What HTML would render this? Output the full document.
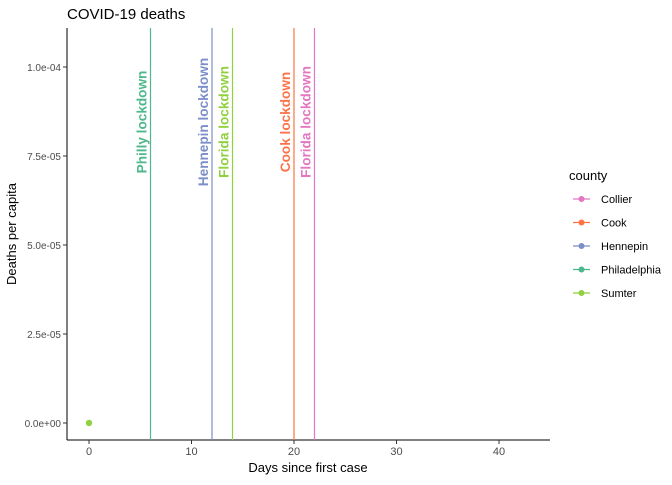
<!DOCTYPE html>
<html><head><meta charset="utf-8"><style>
body{margin:0;background:#fff;font-family:"Liberation Sans",sans-serif}
</style></head><body>
<svg id="c" width="672" height="480" xmlns="http://www.w3.org/2000/svg"></svg>
<script>
const counties=["Collier","Cook","Hennepin","Philadelphia","Sumter"];
const colors=["#E377C2","#FC7347","#7C8EC8","#4DB88D","#8FD13F"];
const lockdownDays=[6,12,14,20,22];
const lockdownLabels=["Philly lockdown","Hennepin lockdown","Florida lockdown","Cook lockdown","Florida lockdown"];
const lockdownCounty=["Philadelphia","Hennepin","Sumter","Cook","Collier"];
const pointDays=[0];
const pointValues=[0];
const pointCounty=["Sumter"];
const xTicks=[0,10,20,30,40];
const yTicks=[0,2.5e-5,5e-5,7.5e-5,1e-4];
const yTickLabels=["0.0e+00","2.5e-05","5.0e-05","7.5e-05","1.0e-04"];

const svg=document.getElementById('c');
const NS="http://www.w3.org/2000/svg";
const L=67,R=550,T=28,B=440;
const x=d=>89+d*10.25;
const y=v=>423-v/1e-4*356;
function el(t,a,txt){const e=document.createElementNS(NS,t);for(const k in a)e.setAttribute(k,a[k]);if(txt!=null)e.textContent=txt;svg.appendChild(e);return e;}
const col=c=>colors[counties.indexOf(c)];

let e;
e=el('line',{x1:L,y1:T,x2:L,y2:B,stroke:'#000','stroke-width':1});


e=el('line',{x1:L,y1:B,x2:R,y2:B,stroke:'#000','stroke-width':1});


xTicks.forEach(t=>{
 e=el('line',{x1:x(t),y1:B,x2:x(t),y2:B+4,stroke:'#333'});
 
 
 e=el('text',{x:x(t),y:B+15,'font-size':11,fill:'#4d4d4d','text-anchor':'middle'},t);
 
 
});
yTicks.forEach((t,i)=>{
 e=el('line',{x1:L-4,y1:y(t),x2:L,y2:y(t),stroke:'#333'});
 
 
 e=el('text',{x:L-6,y:y(t)+4,'font-size':10,fill:'#4d4d4d','text-anchor':'end'},yTickLabels[i]);
 
 
});
lockdownDays.forEach((d,i)=>{
 const c=col(lockdownCounty[i]);
 e=el('line',{x1:x(d),y1:T,x2:x(d),y2:B,stroke:c,'stroke-width':1.2});
 
 
 e=el('text',{x:0,y:0,'font-size':13.6,'font-weight':'bold',fill:c,'text-anchor':'middle',transform:`translate(${x(d)-4},122) rotate(-90)`},lockdownLabels[i]);
 
 
});
pointDays.forEach((d,i)=>{
 e=el('circle',{cx:x(d),cy:y(pointValues[i]),r:3.2,fill:col(pointCounty[i])});
 
 
});
e=el('text',{x:67,y:19,'font-size':15,fill:'#000'},'COVID-19 deaths');


e=el('text',{x:308,y:472,'font-size':13,fill:'#000','text-anchor':'middle'},'Days since first case');


e=el('text',{x:0,y:0,'font-size':13,fill:'#000','text-anchor':'middle',transform:'translate(16,234) rotate(-90)'},'Deaths per capita');


e=el('text',{x:569,y:180,'font-size':13,fill:'#000'},'county');


counties.forEach((c,i)=>{
 const yy=199+i*23.5;
 e=el('line',{x1:573,y1:yy,x2:590,y2:yy,stroke:colors[i],'stroke-width':1.2});
 
 
 e=el('circle',{cx:581.5,cy:yy,r:3,fill:colors[i]});
 
 
 e=el('text',{x:601,y:yy+4,'font-size':11,fill:'#000'},c);
 
 
});
</script>
</body></html>
